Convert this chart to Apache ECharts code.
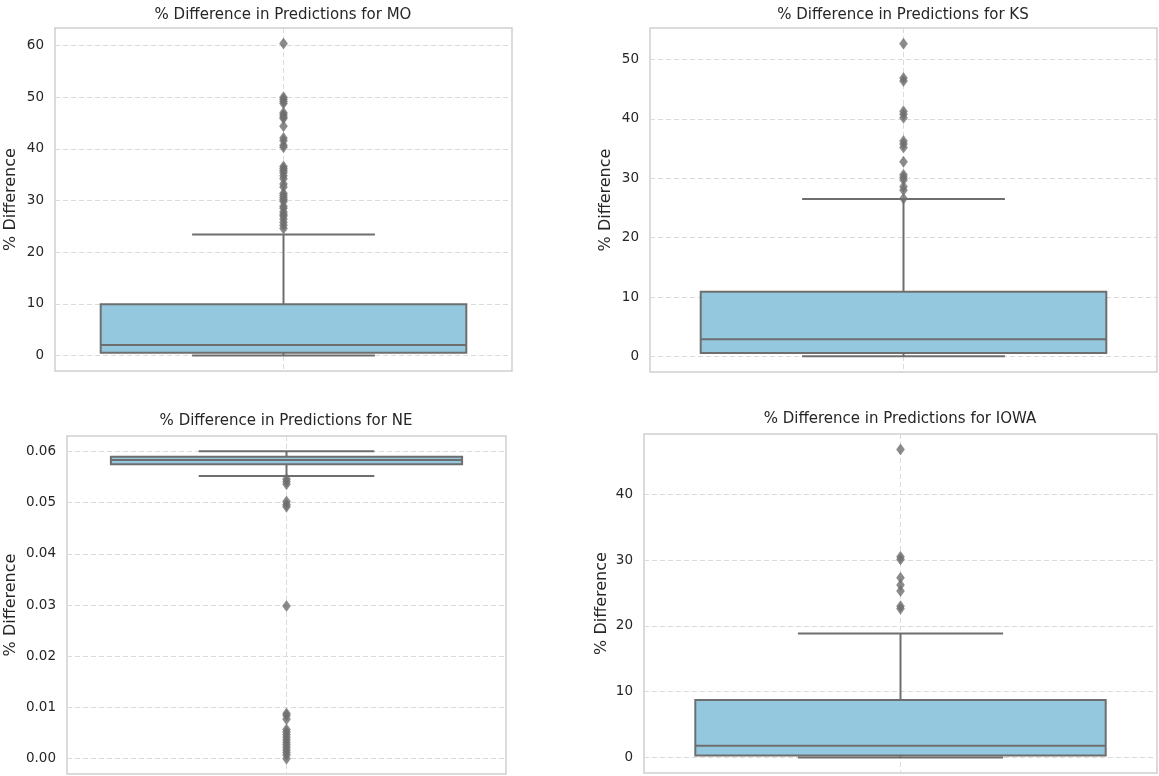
<!DOCTYPE html>
<html><head><meta charset="utf-8">
<script src="https://cdn.jsdelivr.net/npm/echarts@6/dist/echarts.min.js"></script>
<style>html,body{margin:0;padding:0;background:#fff}#c{width:1159px;height:776px}</style>
</head><body><div id="c"></div><script>
// ---- data ----
const states = ['MO', 'KS', 'NE', 'IOWA'];
// box stats: [lower whisker, Q1, median, Q3, upper whisker]
const moBox = [0, 0.5, 2.0, 9.9, 23.4];
const ksBox = [0, 0.55, 2.9, 10.9, 26.5];
const neBox = [0.0552, 0.05747, 0.05831, 0.05896, 0.0600];
const iowaBox = [0, 0.3, 1.8, 8.75, 18.85];
const moOutliers = [60.4, 50.0, 49.6, 49.2, 48.8, 47.0, 46.6, 46.2, 45.9, 44.4, 42.1, 41.6, 40.7, 40.3,
  36.6, 36.2, 35.8, 35.4, 34.8, 34.2, 33.2, 32.6, 31.4, 31.0, 30.6, 30.2, 29.8, 28.9, 28.5, 27.8, 27.3,
  27.0, 26.4, 25.8, 25.2, 24.6];
const ksOutliers = [52.7, 46.9, 46.4, 41.3, 40.8, 40.2, 36.3, 35.8, 35.2, 32.8, 30.6, 30.2, 29.7, 28.6, 28.0, 26.6];
const neOutliers = [0.0546, 0.0541, 0.0536, 0.0502, 0.0496, 0.0492, 0.0298, 0.0088, 0.0084, 0.0077,
  0.0057, 0.0052, 0.0047, 0.0042, 0.0037, 0.0032, 0.0027, 0.0022, 0.0017, 0.0012, 0.0007, 0.0];
const iowaOutliers = [46.8, 30.5, 30.1, 27.3, 26.2, 25.3, 23.0, 22.6];
const yLabelDecimals = [0, 0, 2, 0];
const yTickStep = [10, 10, 0.01, 10];

const boxes = [moBox, ksBox, neBox, iowaBox];
const outliers = [moOutliers, ksOutliers, neOutliers, iowaOutliers];

// ---- layout / style ----
const grids = [
  {left: 55, right: 647, top: 28, bottom: 405},
  {left: 650, right: 2, top: 28, bottom: 404},
  {left: 67, right: 653, top: 436, bottom: 2},
  {left: 644, right: 2, top: 434, bottom: 3}
];
const titlePos = [[283, 8], [903, 8], [286, 414], [900, 412]];
const nameGaps = [36, 36, 48, 34];
const TXT = '#262626', LINE = '#6e6e6e', FILL = '#94c8de', GRIDC = '#dadada';
const FONT = 'DejaVu Sans';

function extentOf(i) {
  const all = boxes[i].concat(outliers[i]);
  const lo = Math.min.apply(null, all), hi = Math.max.apply(null, all);
  const m = (hi - lo) * 0.05;
  return [lo - m, hi + m];
}

function renderBox(params, api) {
  const x = api.value(0);
  const v = [1, 2, 3, 4, 5].map(k => api.value(k));
  const band = api.size([1, 0])[0];
  const cx = api.coord([x, v[0]])[0];
  const y = v.map(val => api.coord([x, val])[1]);
  const hw = band * 0.4, cw = band * 0.2;
  const st = {stroke: LINE, lineWidth: 2};
  return {
    type: 'group',
    children: [
      {type: 'line', shape: {x1: cx, y1: y[0], x2: cx, y2: y[1]}, style: st},
      {type: 'line', shape: {x1: cx, y1: y[3], x2: cx, y2: y[4]}, style: st},
      {type: 'line', shape: {x1: cx - cw, y1: y[0], x2: cx + cw, y2: y[0]}, style: st},
      {type: 'line', shape: {x1: cx - cw, y1: y[4], x2: cx + cw, y2: y[4]}, style: st},
      {type: 'rect', shape: {x: cx - hw, y: y[3], width: 2 * hw, height: y[1] - y[3]},
        style: {fill: FILL, stroke: LINE, lineWidth: 2}},
      {type: 'line', shape: {x1: cx - hw, y1: y[2], x2: cx + hw, y2: y[2]}, style: st}
    ]
  };
}

const option = {
  animation: false,
  backgroundColor: '#fff',
  textStyle: {fontFamily: FONT},
  title: states.map((s, i) => ({
    text: '% Difference in Predictions for ' + s,
    left: titlePos[i][0], top: titlePos[i][1], textAlign: 'center', padding: 0,
    textStyle: {fontFamily: FONT, fontSize: 15, fontWeight: 'normal', color: TXT}
  })),
  grid: grids.map(g => Object.assign({show: true, borderColor: '#cfcfcf', borderWidth: 1.5, backgroundColor: '#fff'}, g)),
  xAxis: states.map((s, i) => ({
    type: 'value', gridIndex: i, min: -0.5, max: 0.5, minInterval: 1, maxInterval: 1,
    axisLine: {show: false}, axisTick: {show: false}, axisLabel: {show: false},
    splitLine: {show: true, showMinLine: false, showMaxLine: false,
      lineStyle: {color: GRIDC, type: [5, 3], width: 1}}
  })),
  yAxis: states.map((s, i) => {
    const ext = extentOf(i);
    return {
      type: 'value', gridIndex: i, min: ext[0], max: ext[1],
      minInterval: yTickStep[i], maxInterval: yTickStep[i],
      name: '% Difference', nameLocation: 'middle', nameGap: nameGaps[i],
      nameTextStyle: {fontFamily: FONT, fontSize: 16, color: TXT},
      axisLine: {show: false}, axisTick: {show: false},
      axisLabel: {show: true, showMinLabel: false, showMaxLabel: false, margin: 11,
        fontFamily: FONT, fontSize: 13.5, color: TXT,
        formatter: val => Number(val).toFixed(yLabelDecimals[i])},
      splitLine: {show: true, showMinLine: false, showMaxLine: false,
        lineStyle: {color: GRIDC, type: [5, 3], width: 1}}
    };
  }),
  series: [].concat(
    states.map((s, i) => ({
      type: 'custom', xAxisIndex: i, yAxisIndex: i, z: 2,
      renderItem: renderBox,
      encode: {x: 0, y: [1, 2, 3, 4, 5]},
      data: [[0].concat(boxes[i])]
    })),
    states.map((s, i) => ({
      type: 'scatter', xAxisIndex: i, yAxisIndex: i, z: 3,
      symbol: 'diamond', symbolSize: [8, 11],
      itemStyle: {color: LINE, borderColor: LINE, borderWidth: 0.5},
      data: outliers[i].map(v => [0, v])
    }))
  )
};

const chart = echarts.init(document.getElementById('c'), null, {renderer: 'canvas'});
chart.setOption(option);
</script></body></html>
